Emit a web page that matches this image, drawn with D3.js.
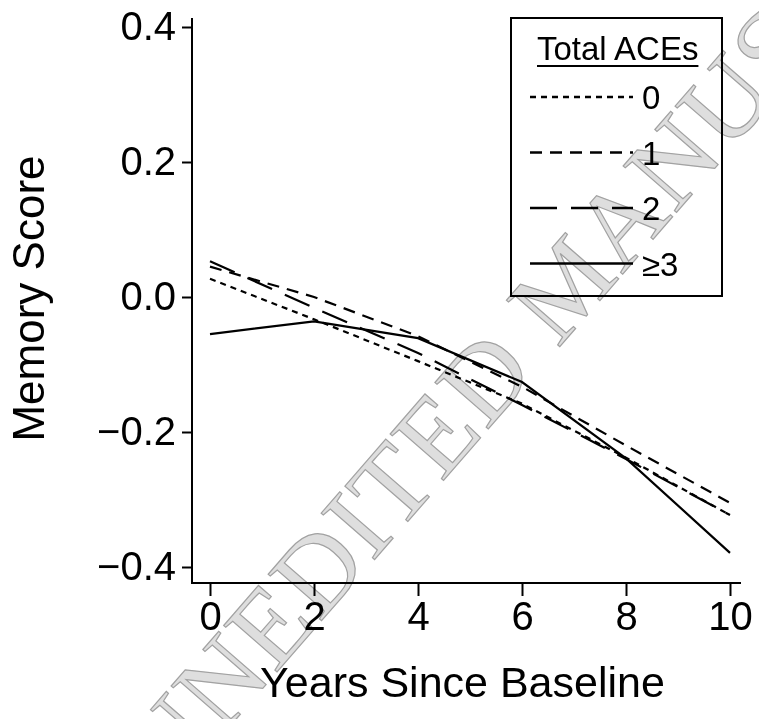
<!DOCTYPE html>
<html>
<head>
<meta charset="utf-8">
<script src="https://cdn.jsdelivr.net/npm/d3@7"></script>
<style>
  html, body { margin: 0; padding: 0; background: #fff; }
  svg { display: block; }
  text { font-family: "Liberation Sans", Arial, sans-serif; fill: #000; }
</style>
</head>
<body>
<svg id="chart" width="759" height="719"></svg>
<script>
// ---- data ----
const years = [0, 2, 4, 6, 8, 10];
const ace0 = [0.027, -0.033, -0.095, -0.158, -0.238, -0.323];
const ace1 = [0.045, 0.000, -0.058, -0.133, -0.220, -0.305];
const ace2 = [0.053, -0.016, -0.083, -0.160, -0.240, -0.323];
const ace3 = [-0.055, -0.036, -0.061, -0.126, -0.239, -0.379];
const seriesNames = ["0", "1", "2", "\u22653"];
const yTicks = [-0.4, -0.2, 0.0, 0.2, 0.4];
const xTicks = [0, 2, 4, 6, 8, 10];
const legendTitle = "Total ACEs";
const xTitle = "Years Since Baseline";
const yTitle = "Memory Score";
const watermark = "UNEDITED MANUSCRIPT";

const series = [ace0, ace1, ace2, ace3];
const dashes = ["6,5", "12,8", "27,14", null];

const svg = d3.select("#chart");

// layout
const axLeft = 192, axRight = 741, axTop = 18, axBottom = 583;
const x = d3.scaleLinear().domain([0, 10]).range([210, 730]);
const y = d3.scaleLinear().domain([0.4, -0.4]).range([27, 567]);

// axes
const yAxis = d3.axisLeft(y).tickValues(yTicks).tickSize(10).tickSizeOuter(0)
  .tickPadding(6).tickFormat(d3.format(".1f"));
const gy = svg.append("g").attr("transform", `translate(${axLeft},0)`).call(yAxis);
gy.select(".domain").remove();
gy.selectAll(".tick line").attr("stroke", "#000").attr("stroke-width", 2);
gy.selectAll(".tick text").attr("font-size", 40).style("font-family", "'Liberation Sans', Arial, sans-serif");

const xAxis = d3.axisBottom(x).tickValues(xTicks).tickSize(13).tickSizeOuter(0)
  .tickPadding(6).tickFormat(d3.format("d"));
const gx = svg.append("g").attr("transform", `translate(0,${axBottom})`).call(xAxis);
gx.select(".domain").remove();
gx.selectAll(".tick line").attr("stroke", "#000").attr("stroke-width", 2);
gx.selectAll(".tick text").attr("font-size", 40).style("font-family", "'Liberation Sans', Arial, sans-serif");

svg.append("path")
  .attr("d", `M${axLeft},${axTop}V${axBottom}H${axRight}`)
  .attr("fill", "none").attr("stroke", "#000").attr("stroke-width", 2);

// axis titles
svg.append("text")
  .attr("x", (axLeft + axRight) / 2 - 4)
  .attr("y", 697)
  .attr("text-anchor", "middle")
  .attr("font-size", 43)
  .text(xTitle);

svg.append("text")
  .attr("transform", `translate(44,${(axTop + axBottom) / 2 - 2}) rotate(-90)`)
  .attr("text-anchor", "middle")
  .attr("font-size", 44)
  .text(yTitle);

// lines
const line = d3.line().x((d, i) => x(years[i])).y(d => y(d));
series.forEach((s, k) => {
  svg.append("path")
    .datum(s)
    .attr("d", line)
    .attr("fill", "none")
    .attr("stroke", "#000")
    .attr("stroke-width", 2.2)
    .attr("stroke-dasharray", dashes[k]);
});

// legend
const lg = svg.append("g");
lg.append("rect")
  .attr("x", 511).attr("y", 18).attr("width", 211).attr("height", 278)
  .attr("fill", "#fff").attr("stroke", "#000").attr("stroke-width", 2);
const title = lg.append("text")
  .attr("x", 537).attr("y", 60)
  .attr("font-size", 33)
  .text(legendTitle);
const tw = title.node().getComputedTextLength();
lg.append("line")
  .attr("x1", 537).attr("x2", 537 + tw)
  .attr("y1", 66).attr("y2", 66)
  .attr("stroke", "#000").attr("stroke-width", 2);
seriesNames.forEach((name, k) => {
  const ly = 97 + k * 55.5;
  lg.append("line")
    .attr("x1", 530).attr("x2", 633)
    .attr("y1", ly).attr("y2", ly)
    .attr("stroke", "#000").attr("stroke-width", 2.4)
    .attr("stroke-dasharray", dashes[k]);
  lg.append("text")
    .attr("x", 642).attr("y", ly + 12)
    .attr("font-size", 33)
    .text(name);
});

// watermark on top (multiply so black marks stay visible)
svg.append("text")
  .attr("transform", "translate(170,795) rotate(-49)")
  .style("font-family", "'Liberation Serif', 'Times New Roman', serif")
  .attr("font-size", 108)
  .attr("letter-spacing", 2)
  .style("fill", "#dedede")
  .style("stroke", "#a2a2a2")
  .style("stroke-width", 1.2)
  .style("mix-blend-mode", "multiply")
  .text(watermark);
</script>
</body>
</html>
